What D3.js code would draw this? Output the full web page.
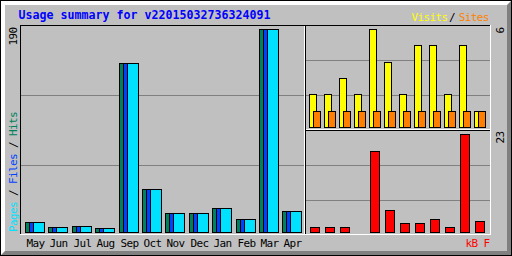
<!DOCTYPE html>
<html>
<head>
<meta charset="utf-8">
<script src="https://cdn.jsdelivr.net/npm/d3@7"></script>
<style>
  html, body { margin: 0; padding: 0; background: #c0c0c0; }
  svg { display: block; }
</style>
</head>
<body>
<div class="canvas"></div>
<script>
// data
const title = "Usage summary for v22015032736324091";
const months = ["May", "Jun", "Jul", "Aug", "Sep", "Oct", "Nov", "Dec", "Jan", "Feb", "Mar", "Apr"];
const hits = [9, 5, 6, 4, 158, 40, 18, 18, 22, 12, 190, 20];
const files = [9, 5, 6, 4, 158, 40, 18, 18, 22, 12, 190, 20];
const pages = [9, 5, 6, 4, 158, 40, 18, 18, 22, 12, 190, 20];
const visits = [2, 2, 3, 2, 6, 4, 2, 5, 5, 2, 5, 1];
const sites = [1, 1, 1, 1, 1, 1, 1, 1, 1, 1, 1, 1];
const kbytes = [1.2, 1.2, 1.2, 0, 19, 5.2, 2.1, 2.1, 3, 1.2, 23, 2.6];
const maxLabels = { hits: 190, visits: 6, kbytes: 23 };

const col = {
  hit: "#00805c", file: "#0040ff", page: "#00e0ff",
  visit: "#ffff00", site: "#ff8000", kb: "#ff0000",
  title: "#0000ff", grid: "#808080", dark: "#808080"
};
const mono = "'DejaVu Sans Mono', 'Liberation Mono', monospace";

const svg = d3.select(".canvas").append("svg")
  .attr("width", 512).attr("height", 256)
  .attr("shape-rendering", "crispEdges");

svg.append("rect").attr("width", 512).attr("height", 256).attr("fill", "#c0c0c0");

// 1px line helper (pixel columns/rows inclusive)
let hline = (x1, x2, y, c) => svg.append("rect").attr("x", x1).attr("y", y)
  .attr("width", x2 - x1 + 1).attr("height", 1).attr("fill", c);
let vline = (x, y1, y2, c) => svg.append("rect").attr("x", x).attr("y", y1)
  .attr("width", 1).attr("height", y2 - y1 + 1).attr("fill", c);

// bevel border
hline(0, 511, 0, "#000"); hline(0, 511, 255, "#000");
vline(0, 0, 255, "#000"); vline(511, 0, 255, "#000");
for (let i = 1; i < 5; i++) {
  hline(i, 510 - i, i, "#fff");
  vline(i, i, 254 - i, "#fff");
}
for (let i = 1; i < 5; i++) {
  hline(i + 1, 510, 255 - i, col.dark);
  vline(511 - i, i + 1, 254, col.dark);
}

// grid lines at thirds of each panel
const gy = d3.scaleLinear().domain([0, 1]).range([25, 235]);
[1, 2].forEach(k => hline(21, 303, Math.round(gy(k / 3)), col.grid));
const gyTop = d3.scaleLinear().domain([0, 1]).range([25, 130]);
[1, 2].forEach(k => hline(306, 489, Math.round(gyTop(k / 3)), col.grid));
const gyBot = d3.scaleLinear().domain([0, 1]).range([130, 235]);
[1, 2].forEach(k => hline(306, 489, Math.round(gyBot(k / 3)), col.grid));

// frame lines
hline(20, 490, 25, "#000");
vline(20, 25, 234, "#000");
hline(20, 490, 234, "#fff");
vline(490, 25, 234, "#fff");
vline(304, 26, 233, "#fff");
vline(305, 25, 233, "#000");
hline(306, 489, 129, "#fff");
hline(306, 489, 130, "#000");

// outlined bar with pixel-inclusive corners
let bar = (x1, x2, y1, y2, fill) => svg.append("rect")
  .attr("x", x1 + 0.5).attr("y", y1 + 0.5)
  .attr("width", x2 - x1).attr("height", y2 - y1)
  .attr("fill", fill).attr("stroke", "#000").attr("stroke-width", 1);

// main panel: hits / files / pages
const x = d3.scaleLinear().domain([0, 11]).range([25, 282.4]);
const y = d3.scaleLinear().domain([0, maxLabels.hits]).range([232, 29]);
months.forEach((m, i) => {
  const x1 = Math.round(x(i));
  if (hits[i] > 0) bar(x1, x1 + 19, Math.round(y(hits[i])), 232, col.hit);
  if (files[i] > 0) bar(x1 + 4, x1 + 19, Math.round(y(files[i])), 232, col.file);
  if (pages[i] > 0) bar(x1 + 8, x1 + 19, Math.round(y(pages[i])), 232, col.page);
});

// upper right: visits / sites
const xv = d3.scaleLinear().domain([0, 11]).range([309, 474]);
const yv = d3.scaleLinear().domain([0, maxLabels.visits]).range([127, 29]);
months.forEach((m, i) => {
  const x1 = Math.round(xv(i));
  if (visits[i] > 0) bar(x1, x1 + 7, Math.round(yv(visits[i])), 127, col.visit);
  if (sites[i] > 0) bar(x1 + 4, x1 + 11, Math.round(yv(sites[i])), 127, col.site);
});

// lower right: kbytes
const yk = d3.scaleLinear().domain([0, maxLabels.kbytes]).range([232, 134]);
months.forEach((m, i) => {
  const x1 = Math.round(xv(i));
  if (kbytes[i] > 0) bar(x1 + 1, x1 + 10, Math.round(yk(kbytes[i])), 232, col.kb);
});

// texts (6px cells like the gd small font)
const txt = svg.append("g").attr("font-family", mono).attr("font-size", 11)
  .attr("letter-spacing", "-0.62px").attr("shape-rendering", "auto");

svg.append("text").attr("x", 18.5).attr("y", 19)
  .attr("font-family", mono).attr("font-weight", "bold").attr("font-size", 11.63)
  .attr("fill", col.title).text(title);

txt.selectAll(".month").data(months).enter().append("text")
  .attr("class", "month")
  .attr("x", (d, i) => Math.round(x(i)) + 1.5).attr("y", 247)
  .attr("fill", "#000").text(d => d);

txt.append("text").attr("x", 411.5).attr("y", 21).attr("fill", col.visit).text("Visits");
txt.append("text").attr("x", 449).attr("y", 21).attr("fill", "#000").text("/");
txt.append("text").attr("x", 458.7).attr("y", 21).attr("fill", col.site).text("Sites");

txt.append("text").attr("x", 465.5).attr("y", 247).attr("fill", col.kb).text("kB F");

let up = (px, py, parts) => {
  const t = txt.append("text").attr("transform", `translate(${px},${py}) rotate(-90)`);
  parts.forEach(p => t.append("tspan").attr("fill", p[1]).text(p[0]));
};
up(17, 45.5, [[String(maxLabels.hits), "#000"]]);
up(16.5, 232, [["Pages", col.page], [" / ", "#000"], ["Files", col.file], [" / ", "#000"], ["Hits", col.hit]]);
up(504, 33.5, [[String(maxLabels.visits), "#000"]]);
up(504, 143.5, [[String(maxLabels.kbytes), "#000"]]);
</script>
</body>
</html>
